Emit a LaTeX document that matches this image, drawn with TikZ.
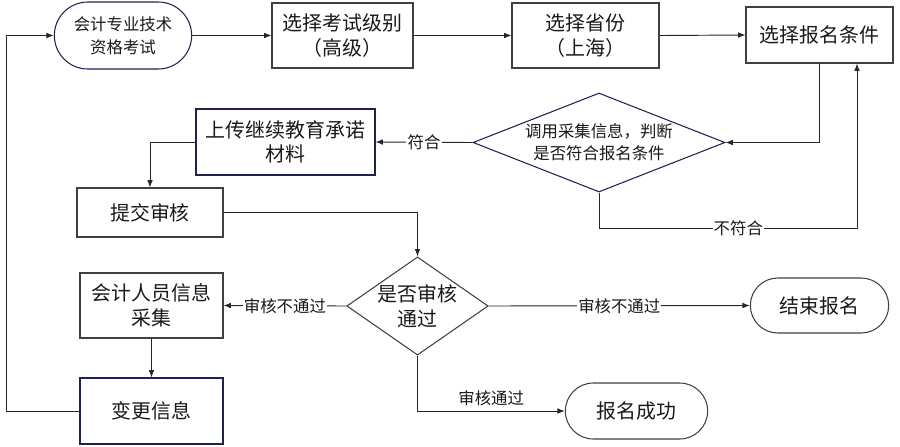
\documentclass[tikz,border=0pt]{standalone}
\usepackage{fontspec}
\setmainfont{Noto Sans CJK SC}
\usetikzlibrary{arrows.meta,positioning,shapes.geometric,shapes.misc}
\definecolor{navy}{HTML}{1C2350}
\definecolor{edge}{HTML}{404040}
\tikzset{
  blk/.style   = {draw=edge, line width=0.9pt, rectangle, align=center,
                  inner sep=2pt, text=black!90,
                  font=\fontsize{17}{21}\selectfont},
  nblk/.style  = {blk, draw=navy},
  term/.style  = {blk, rounded rectangle},
  dec/.style   = {draw=edge, line width=0.9pt, diamond, align=center,
                  inner sep=0pt, text=black!90},
  lbl/.style   = {font=\fontsize{14}{17}\selectfont, fill=white,
                  inner sep=1pt, text=black!90},
  ar/.style    = {-{Latex[length=2.2mm,width=1.7mm]}, line width=0.8pt,
                  draw=black!85},
}
\begin{document}
\begin{tikzpicture}
\useasboundingbox (0,0) rectangle (27,-13.38);
%% ---- top row ---------------------------------------------------------
\node[term, draw=navy, minimum width=4.26cm, minimum height=2.01cm,
      font=\fontsize{14}{19.5}\selectfont] (start) at (3.69,-1.065)
  {会计专业技术\\资格考试};
\node[blk, minimum width=4.23cm, minimum height=1.95cm] (level) at (10.275,-1.065)
  {选择考试级别\\（高级）};
\node[blk, minimum width=4.41cm, minimum height=1.95cm] (prov) at (17.565,-1.065)
  {选择省份\\（上海）};
\node[blk, minimum width=4.41cm, minimum height=1.68cm] (cond) at (24.585,-1.05)
  {选择报名条件};

%% ---- condition check -------------------------------------------------
\node[dec, draw=navy, minimum width=7.56cm, minimum height=2.97cm,
      shape aspect=2.55, font=\fontsize{14}{18.5}\selectfont] (chk) at (17.97,-4.275)
  {调用采集信息，判断\\是否符合报名条件};
\node[nblk, minimum width=5.37cm, minimum height=1.98cm] (upload) at (8.565,-4.26)
  {上传继续教育承诺\\材料};
\node[blk, minimum width=4.38cm, minimum height=1.47cm] (submit) at (4.5,-6.375)
  {提交审核};

%% ---- review ----------------------------------------------------------
\node[dec, minimum width=4.23cm, minimum height=2.94cm, shape aspect=1.44,
      font=\fontsize{17}{21}\selectfont] (pass) at (12.525,-9.18)
  {是否审核\\通过};
\node[blk, minimum width=4.29cm, minimum height=1.95cm] (collect) at (4.545,-9.165)
  {会计人员信息\\采集};
\node[nblk, minimum width=4.29cm, minimum height=1.98cm] (change) at (4.545,-12.33)
  {变更信息};
\node[term, minimum width=4.29cm, minimum height=1.65cm] (stop) at (24.585,-9.165)
  {结束报名};
\node[term, minimum width=4.41cm, minimum height=1.68cm] (done) at (19.095,-12.33)
  {报名成功};

%% ---- bends -----------------------------------------------------------
\coordinate (back) at (0.18,-12.33);
\coordinate (nomatch) at (25.71,-6.84);

%% ---- arrows ----------------------------------------------------------
\draw[ar] (start.east) -- (level.west);
\draw[ar] (level.east) -- (prov.west);
\draw[ar] (prov.east) -- (cond.west);
\draw[ar] (cond.south) |- (chk.east);
\draw[ar] (chk.south) |- node[lbl, pos=0.77] {不符合} (nomatch)
  -- (nomatch |- cond.south);
\draw[ar] (chk.west) -- node[lbl] {符合} (upload.east);
\draw[ar] (upload.west) -| (submit.north);
\draw[ar] (submit.east) -| (pass.north);
\draw[ar] (pass.west) -- node[lbl] {审核不通过} (collect.east);
\draw[ar] (pass.east) -- node[lbl] {审核不通过} (stop.west);
\draw[ar] (pass.south) |- node[lbl, pos=0.75, above=3pt] {审核通过} (done.west);
\draw[ar] (collect.south) -- (change.north);
\draw[ar] (change.west) -- (back) |- (start.west);
\end{tikzpicture}
\end{document}
